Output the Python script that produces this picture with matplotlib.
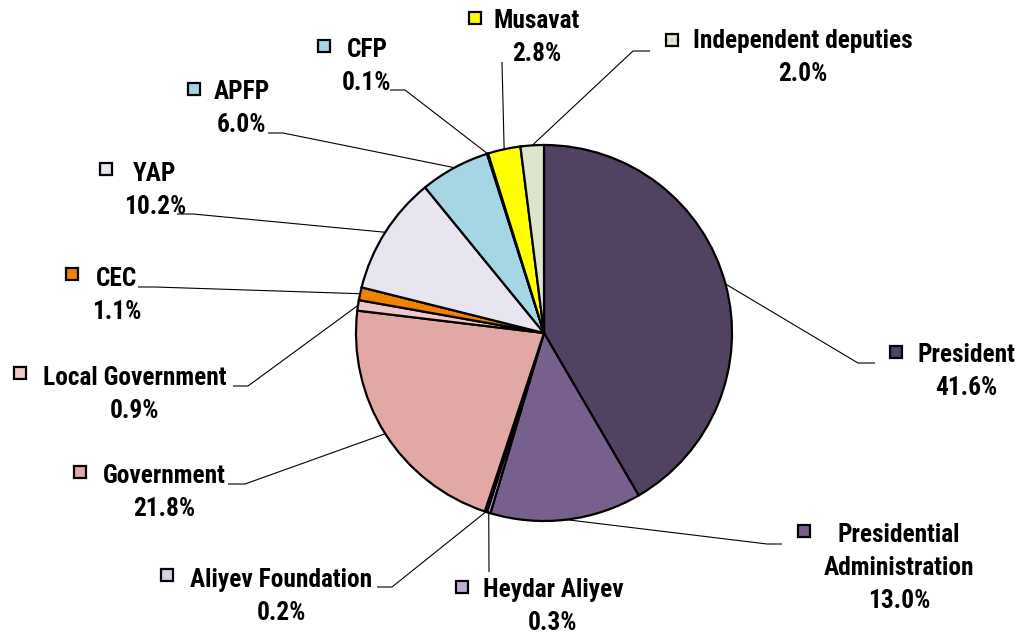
import numpy as np
import matplotlib
matplotlib.use("Agg")
import matplotlib.pyplot as plt
from matplotlib import font_manager

names = ["Roboto Condensed", "Liberation Sans Narrow", "Liberation Sans", "DejaVu Sans"]
avail = {f.name for f in font_manager.fontManager.ttflist}
FONT = [n for n in names if n in avail][0]

# ---- data ----
categories = ["President", "Presidential\nAdministration", "Heydar Aliyev", "Aliyev Foundation",
              "Government", "Local Government", "CEC", "YAP", "APFP", "CFP", "Musavat",
              "Independent deputies"]
values = [41.6, 13.0, 0.3, 0.2, 21.8, 0.9, 1.1, 10.2, 6.0, 0.1, 2.8, 2.0]
colors = ["#524262", "#77608D", "#BFB0D2", "#D8D2E6", "#E2A8A6", "#F0C8C8", "#F08200",
          "#E8E4F0", "#A6D6E4", "#A6D6E4", "#FFFF00", "#DDE6CC"]

# ---- layout (pixel coords, y from top) ----
CX, CY, R = 544, 333, 188
# label: (square x, square y, text center x, first line cap-center y)
label_pos = [
    (896, 352, 966, 353),
    (804, 531, 899, 533),
    (462, 587, 553, 588),
    (167, 575, 281, 578),
    (80, 472, 164, 474),
    (20, 373, 135, 376),
    (72, 274, 117, 277),
    (106, 169, 155, 172),
    (194, 89, 242, 90),
    (324, 46, 367, 48),
    (475, 18, 537, 19),
    (672, 40, 803, 39),
]
# leader: (elbow, end)
leaders = [
    ((858, 363), (875, 363)),
    ((767, 544), (782, 544)),
    ((489, 572), (489, 572)),
    ((392, 587), (377, 587)),
    ((245, 484), (228, 484)),
    ((248, 386), (233, 386)),
    ((155, 287), (138, 287)),
    ((193, 214), (177, 214)),
    ((283, 133), (268, 133)),
    ((405, 90), (390, 90)),
    ((502, 62), (502, 62)),
    ((633, 51), (650, 51)),
]

fig = plt.figure(figsize=(10.2, 6.34), dpi=100)
ax = fig.add_axes([0, 0, 1, 1])

wedges, _ = ax.pie(values, colors=colors, startangle=-90, counterclock=True,
                   center=(CX, CY), radius=R, frame=True,
                   wedgeprops=dict(edgecolor="black", linewidth=1.6))
ax.set_xlim(0, 1020)
ax.set_ylim(634, 0)
ax.set_aspect("equal")
ax.axis("off")

LS = 33
FS = 18.3
for w, cat, val, col, (sx, sy, tx, ty), (el, en) in zip(wedges, categories, values, colors,
                                                        label_pos, leaders):
    mid = np.deg2rad((w.theta1 + w.theta2) / 2)
    px, py = CX + R * np.cos(mid), CY + R * np.sin(mid)
    ax.plot([px, el[0], en[0]], [py, el[1], en[1]], color="black", lw=0.8, zorder=3,
            solid_capstyle="butt")
    ax.plot([sx], [sy], marker="s", markersize=9, markerfacecolor=col,
            markeredgecolor="black", markeredgewidth=1.6, zorder=4)
    lines = cat.split("\n") + [f"{val:.1f}%"]
    for i, ln in enumerate(lines):
        ax.text(tx, ty + 9 + i * LS, ln, ha="center", va="baseline", fontsize=FS,
                fontweight="bold", family=FONT, color="black")

fig.savefig("out.png", dpi=100)
